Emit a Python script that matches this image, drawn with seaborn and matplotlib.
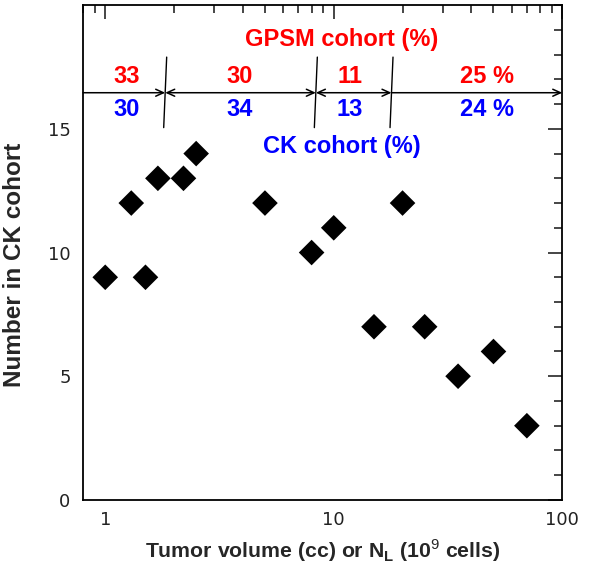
import numpy as np
import pandas as pd
import matplotlib
matplotlib.use("Agg")
import matplotlib.pyplot as plt
import matplotlib.ticker as mticker
import seaborn as sns

# data
tumor_volume = [1, 1.3, 1.5, 1.7, 2.2, 2.5, 5, 8, 10, 15, 20, 25, 35, 50, 70]
n_ck = [9, 12, 9, 13, 13, 14, 12, 10, 11, 7, 12, 7, 5, 6, 3]

# cohort percentages per volume bin
gpsm_pct = ["33", "30", "11", "25 %"]
ck_pct = ["30", "34", "13", "24 %"]
bin_edges = [0.8, 1.83, 8.35, 17.9, 100]
label_x = [1.24, 3.88, 11.8, 46.9]

df = pd.DataFrame({"volume": tumor_volume, "count": n_ck})

sns.set_style("white")
plt.rcParams["font.family"] = ["Liberation Sans", "DejaVu Sans"]
plt.rcParams["mathtext.fontset"] = "custom"
plt.rcParams["mathtext.rm"] = "Liberation Sans"
plt.rcParams["mathtext.bf"] = "Liberation Sans:bold"

fig = plt.figure(figsize=(6.02, 5.72), dpi=100)
ax = fig.add_axes([0.138, 0.126, 0.796, 0.865])

sns.scatterplot(data=df, x="volume", y="count", marker="D", s=170,
                color="black", edgecolor="none", ax=ax, zorder=3)

ax.set_xscale("log")
ax.set_xlim(0.8, 100)
ax.set_ylim(0, 20)

ax.xaxis.set_major_locator(mticker.FixedLocator([1, 10, 100]))
ax.xaxis.set_major_formatter(mticker.FixedFormatter(["1", "10", "100"]))
ax.xaxis.set_minor_locator(mticker.LogLocator(base=10, subs=np.arange(2, 10) / 1.0))
ax.xaxis.set_minor_formatter(mticker.NullFormatter())
ax.set_yticks([0, 5, 10, 15])
ax.yaxis.set_minor_locator(mticker.MultipleLocator(1))

ax.tick_params(which="both", direction="in", top=True, right=True, width=1.2,
               labelsize=13, labelfontfamily="DejaVu Sans", labelcolor="#222222")
ax.tick_params(which="major", length=10)
ax.tick_params(which="minor", length=6)
ax.tick_params(axis="x", pad=8)
ax.tick_params(axis="y", pad=9)
for sp in ax.spines.values():
    sp.set_linewidth(1.3)
    sp.set_color("black")

ax.set_xlabel(r"Tumor volume (cc) or N$_\mathbf{L}$ (10$^\mathrm{9}$ cells)",
              fontsize=15.3, fontweight="bold", labelpad=6)
ax.set_ylabel("Number in CK cohort", fontsize=17.5, fontweight="bold")
ax.yaxis.set_label_coords(-0.12, 0.475)

# bin arrows and separators
y_arrow = 16.46
n_bins = len(gpsm_pct)
for i in range(n_bins):
    x0, x1 = bin_edges[i], bin_edges[i + 1]
    if i == 0 or i == n_bins - 1:
        style = "->"
    else:
        style = "<->"
    ax.annotate("", xy=(x1, y_arrow), xytext=(x0, y_arrow),
                arrowprops=dict(arrowstyle=style + ",head_length=0.55,head_width=0.25",
                                color="black", lw=1.1, shrinkA=0, shrinkB=0),
                annotation_clip=False)
for xe in bin_edges[1:-1]:
    ax.plot([xe * 1.015, xe * 0.985], [17.9, 15.05], color="black", lw=1.0)

for i in range(n_bins):
    ax.text(label_x[i], 17.1, gpsm_pct[i], color="red", fontsize=17,
            fontweight="bold", ha="center", va="center")
    ax.text(label_x[i], 15.8, ck_pct[i], color="blue", fontsize=17,
            fontweight="bold", ha="center", va="center")

ax.text(10.8, 18.6, "GPSM cohort (%)", color="red", fontsize=17,
        fontweight="bold", ha="center", va="center")
ax.text(10.8, 14.3, "CK cohort (%)", color="blue", fontsize=17,
        fontweight="bold", ha="center", va="center")

fig.savefig("out.png", dpi=100)
plt.close(fig)
